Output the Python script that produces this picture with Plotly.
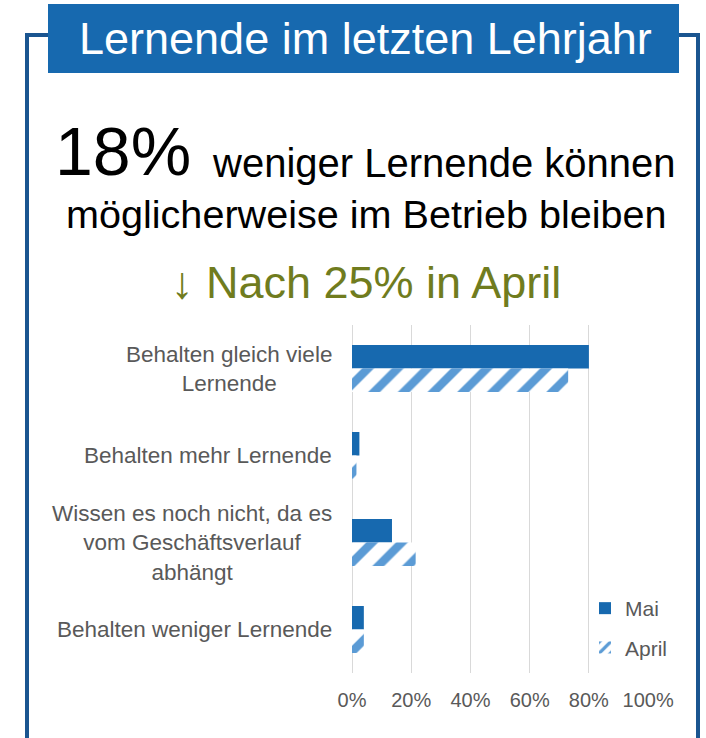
import plotly.graph_objects as go

# ---- data ----
categories = [
    "Behalten gleich viele Lernende",
    "Behalten mehr Lernende",
    "Wissen es noch nicht, da es vom Geschäftsverlauf abhängt",
    "Behalten weniger Lernende",
]
category_labels = [
    "Behalten gleich viele<br>Lernende",
    "Behalten mehr Lernende",
    "Wissen es noch nicht, da es<br>vom Geschäftsverlauf<br>abhängt",
    "Behalten weniger Lernende",
]
mai_values = [80, 2.5, 13.5, 4]
april_values = [73, 1.5, 21.5, 4]
tick_values = [0, 20, 40, 60, 80, 100]
tick_labels = ["0%", "20%", "40%", "60%", "80%", "100%"]

title_text = "Lernende im letzten Lehrjahr"
big_number = "18%"
headline_1 = "weniger Lernende können"
headline_2 = "möglicherweise im Betrieb bleiben"
subline = "↓ Nach 25% in April"

# ---- layout geometry (pixels) ----
W, H = 706, 738
ML, MR, MT, MB = 352, 57, 325, 65
PW = W - ML - MR
PH = H - MT - MB


def px(x):
    return (x - ML) / PW


def py(y):
    return (H - MB - y) / PH


FONT = "Liberation Sans, Arial, sans-serif"
BLUE = "#1769AF"
LIGHT = "#5B9BD5"
FRAME = "#1A5590"
GRAY = "#595959"

fig = go.Figure()
fig.add_trace(go.Bar(
    y=categories, x=mai_values, name="Mai", orientation="h",
    marker=dict(color=BLUE, line=dict(width=0)),
    legendgroup="g1",
))
fig.add_trace(go.Bar(
    y=categories, x=april_values, name="April", orientation="h",
    marker=dict(color="white", line=dict(width=0),
                pattern=dict(shape="/", fgcolor=LIGHT, bgcolor="white",
                             fgopacity=1, size=21, solidity=0.4,
                             fillmode="replace")),
    legendgroup="g2",
))

annotations = []
for cat, lab in zip(categories, category_labels):
    annotations.append(dict(
        x=px(334), xref="paper", y=cat, yref="y", text=lab,
        xanchor="right", yanchor="middle", align="center", showarrow=False,
        font=dict(family=FONT, size=22.5, color=GRAY),
    ))

annotations += [
    dict(x=px(365), y=py(38), xref="paper", yref="paper", text=title_text,
         showarrow=False, xanchor="center", yanchor="middle",
         font=dict(family=FONT, size=45, color="white")),
    dict(x=px(53), y=py(151), xref="paper", yref="paper", text=big_number,
         showarrow=False, xanchor="left", yanchor="middle",
         font=dict(family=FONT, size=68, color="black")),
    dict(x=px(210), y=py(163), xref="paper", yref="paper", text=headline_1,
         showarrow=False, xanchor="left", yanchor="middle",
         font=dict(family=FONT, size=40, color="black")),
    dict(x=px(366.5), y=py(214), xref="paper", yref="paper", text=headline_2,
         showarrow=False, xanchor="center", yanchor="middle",
         font=dict(family=FONT, size=39.6, color="black")),
    dict(x=px(366), y=py(282), xref="paper", yref="paper", text=subline,
         showarrow=False, xanchor="center", yanchor="middle",
         font=dict(family=FONT, size=45, color="#707C1E")),
]

shapes = [
    dict(type="rect", xref="paper", yref="paper",
         x0=px(27), x1=px(698), y0=py(35), y1=py(800),
         line=dict(color=FRAME, width=4), fillcolor="rgba(0,0,0,0)", layer="below"),
    dict(type="rect", xref="paper", yref="paper",
         x0=px(48), x1=px(679), y0=py(4), y1=py(73),
         line=dict(width=0), fillcolor=BLUE, layer="below"),
]

fig.update_layout(
    width=W, height=H,
    margin=dict(l=ML, r=MR, t=MT, b=MB, pad=0),
    paper_bgcolor="white", plot_bgcolor="white",
    barmode="group", bargap=0.46, bargroupgap=0,
    font=dict(family=FONT, color=GRAY),
    showlegend=True,
    legend=dict(x=px(585), y=py(588), xanchor="left", yanchor="top",
                traceorder="grouped", tracegroupgap=9,
                font=dict(family=FONT, size=21, color=GRAY),
                bgcolor="rgba(0,0,0,0)"),
    annotations=annotations,
    shapes=shapes,
)
fig.update_xaxes(range=[0, 100.3], tickvals=tick_values, ticktext=tick_labels,
                 showgrid=True, gridcolor="#D9D9D9", gridwidth=1,
                 zeroline=True, zerolinecolor="#D9D9D9", zerolinewidth=1,
                 showline=False, ticks="", fixedrange=True, ticklabelstandoff=13,
                 tickfont=dict(family=FONT, size=20, color=GRAY))
fig.update_yaxes(categoryorder="array", categoryarray=categories,
                 autorange="reversed", showticklabels=False, showgrid=False,
                 zeroline=False, showline=False, ticks="", fixedrange=True)

fig.write_html("out.html", config={"displayModeBar": False},
               post_script="document.body.style.margin='0px';document.body.style.overflow='hidden';")
